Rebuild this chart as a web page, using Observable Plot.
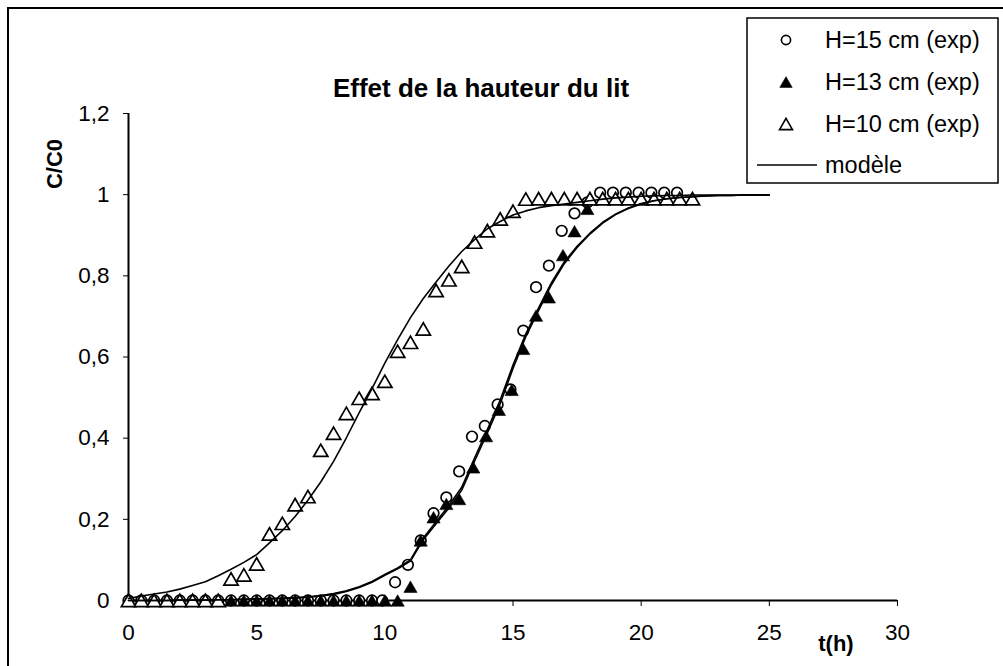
<!DOCTYPE html>
<html>
<head>
<meta charset="utf-8">
<script src="https://cdn.jsdelivr.net/npm/d3@7"></script>
<script src="https://cdn.jsdelivr.net/npm/@observablehq/plot@0.6"></script>
<style>
html,body{margin:0;padding:0;background:#fff;overflow:hidden;}
#wrap{position:relative;width:1003px;height:666px;overflow:hidden;font-family:"Liberation Sans",Arial,sans-serif;}
#frame{position:absolute;left:7px;top:7px;width:1100px;height:800px;border-left:2px solid #000;border-top:2px solid #000;}
#chart{position:absolute;left:0;top:0;}
#over{position:absolute;left:0;top:0;}
</style>
</head>
<body>
<div id="wrap">
  <div id="frame"></div>
  <div id="chart"></div>
  <svg id="over" width="1003" height="666"></svg>
</div>
<script>
// ---------- data ----------
const title = "Effet de la hauteur du lit";
const yLabel = "C/C0";
const xLabel = "t(h)";
const xTicks = [0, 5, 10, 15, 20, 25, 30];
const yTicks = [0, 0.2, 0.4, 0.6, 0.8, 1, 1.2];
const seriesNames = ["H=15 cm (exp)", "H=13 cm (exp)", "H=10 cm (exp)", "modèle"];

// H = 15 cm (open circles)
const t15 = [0,0.5,1,1.5,2,2.5,3,3.5,4,4.5,5,5.5,6,6.5,7,7.5,8,8.5,9,9.5,9.9,
  10.4,10.9,11.4,11.9,12.4,12.9,13.4,13.9,14.4,14.9,15.4,15.9,16.4,16.9,17.4,17.9,
  18.4,18.9,19.4,19.9,20.4,20.9,21.4];
const c15 = [0,0,0,0,0,0,0,0,0,0,0,0,0,0,0,0,0,0,0,0,0,
  0.045,0.088,0.148,0.215,0.254,0.318,0.404,0.430,0.483,0.520,0.665,0.772,0.825,0.911,0.954,0.981,
  1.005,1.005,1.005,1.005,1.005,1.005,1.005];

// H = 13 cm (filled triangles)
const t13 = [0,0.5,1,1.5,2,2.5,3,3.5,4,4.5,5,5.5,6,6.5,7,7.5,8,8.5,9,9.5,10,10.5,
  11.0,11.4,11.9,12.4,12.9,13.45,13.95,14.45,14.95,15.4,15.9,16.4,16.95,17.4,17.9];
const c13 = [0,0,0,0,0,0,0,0,0,0,0,0,0,0,0,0,0,0,0,0,0,0,
  0.034,0.148,0.205,0.238,0.250,0.328,0.405,0.470,0.519,0.620,0.702,0.747,0.851,0.910,0.965];

// H = 10 cm (open triangles)
const t10 = [0,0.5,1,1.5,2,2.5,3,3.5,4,4.5,5,5.5,6,6.5,7,7.5,8,8.5,9,9.5,10,10.5,
  11,11.5,12,12.5,13,13.5,14,14.5,15,15.5,16,16.5,17,17.5,18,18.5,19,19.5,20,20.5,21,21.5,22];
const c10 = [0,0,0,0,0,0,0,0,
  0.053,0.063,0.090,0.164,0.190,0.236,0.256,0.370,0.412,0.461,0.498,0.510,0.540,0.614,
  0.636,0.669,0.764,0.790,0.823,0.883,0.911,0.940,0.959,0.989,
  0.99,0.99,0.99,0.99,0.99,0.99,0.99,0.99,0.99,0.99,0.99,0.99,0.99];

// model curves
const tModel = [0,0.5,1,1.5,2,2.5,3,3.5,4,4.5,5,5.5,6,6.5,7,7.5,8,8.5,9,9.5,10,10.5,11,11.5,
  12,12.5,13,13.5,14,14.5,15,15.5,16,16.5,17,17.5,18,18.5,19,19.5,20,20.5,21,21.5,22,22.5,23,23.5,24,24.5,25];
const model10 = [0.005,0.011,0.016,0.021,0.028,0.037,0.046,0.061,0.077,0.094,0.113,0.142,0.172,0.207,
  0.247,0.292,0.343,0.401,0.463,0.522,0.585,0.643,0.697,0.744,0.785,0.824,0.860,0.889,0.916,0.934,
  0.950,0.960,0.968,0.973,0.977,0.981,0.985,0.989,0.992,0.994,0.996,0.997,0.998,0.998,0.999,0.999,
  0.999,0.999,0.999,0.999,0.999];
const model13 = [0,0,0,0,0.001,0.001,0.001,0.002,0.002,0.003,0.003,0.004,0.005,0.006,0.008,0.011,
  0.015,0.022,0.032,0.045,0.062,0.078,0.097,0.150,0.189,0.228,0.272,0.343,0.413,0.485,0.572,0.650,
  0.715,0.778,0.830,0.870,0.903,0.930,0.951,0.966,0.977,0.985,0.990,0.993,0.995,0.997,0.998,0.998,
  0.999,0.999,0.999];
const model15 = [0,0,0,0,0.001,0.001,0.001,0.002,0.002,0.003,0.004,0.005,0.006,0.007,0.009,0.012,
  0.017,0.024,0.034,0.047,0.064,0.080,0.100,0.154,0.194,0.234,0.279,0.351,0.421,0.494,0.580,0.657,
  0.721,0.783,0.834,0.873,0.905,0.932,0.952,0.967,0.978,0.985,0.990,0.993,0.995,0.997,0.998,0.998,
  0.999,0.999,0.999];

// ---------- build ----------
const pts = (ts, vs) => ts.map((t, i) => ({t, v: vs[i]}));
const d15 = pts(t15, c15), d13 = pts(t13, c13), d10 = pts(t10, c10);
const m10 = pts(tModel, model10), m13 = pts(tModel, model13), m15 = pts(tModel, model15);

const FONT = "'Liberation Sans', Arial, sans-serif";
const chart = Plot.plot({
  width: 1003,
  height: 666,
  marginLeft: 128,
  marginRight: 106,
  marginTop: 113,
  marginBottom: 66,
  style: {fontFamily: FONT, fontSize: "22.5px", background: "transparent", color: "#000", overflow: "visible"},
  x: {domain: [0, 30], ticks: xTicks, tickSize: 6, tickPadding: 18, tickFormat: d => String(d), label: null},
  y: {domain: [0, 1.2], ticks: yTicks, tickSize: 5, tickPadding: 14,
      tickFormat: d => String(d).replace(".", ","), label: null},
  marks: [
    Plot.ruleY([0], {stroke: "#000", strokeWidth: 2}),
    Plot.ruleX([0], {stroke: "#000", strokeWidth: 2}),
    Plot.dot(d15, {x: "t", y: "v", symbol: "circle", r: 5.3, fill: "white", stroke: "#000", strokeWidth: 1.7}),
    Plot.dot(d13, {x: "t", y: "v", symbol: "triangle", r: 4.9, dy: 1.9, fill: "#000", stroke: "#000", strokeWidth: 0.6}),
    Plot.dot(d10, {x: "t", y: "v", symbol: "triangle", r: 5.3, dy: 2.0, fill: "white", stroke: "#000", strokeWidth: 1.7}),
    Plot.line(m10, {x: "t", y: "v", stroke: "#000", strokeWidth: 1.6}),
    Plot.line(m13, {x: "t", y: "v", stroke: "#000", strokeWidth: 1.6}),
    Plot.line(m15, {x: "t", y: "v", stroke: "#000", strokeWidth: 1.6})
  ]
});
document.getElementById("chart").appendChild(chart);

// ---------- overlay texts and legend ----------
const ov = d3.select("#over").style("font-family", FONT);
ov.append("text").attr("x", 481).attr("y", 97).attr("text-anchor", "middle")
  .attr("font-size", 26).attr("font-weight", "bold").text(title);
ov.append("text").attr("transform", "translate(62,164) rotate(-90)").attr("text-anchor", "middle")
  .attr("font-size", 22).attr("font-weight", "bold").text(yLabel);
ov.append("text").attr("x", 836).attr("y", 651).attr("text-anchor", "middle")
  .attr("font-size", 22).attr("font-weight", "bold").text(xLabel);

const lg = ov.append("g");
lg.append("rect").attr("x", 747).attr("y", 18).attr("width", 251).attr("height", 165)
  .attr("fill", "white").attr("stroke", "#000").attr("stroke-width", 1.5);
const rowsY = [40, 82, 124, 165];
const sym = (type, r) => d3.symbol().type(type).size(Math.PI * r * r)();
lg.append("path").attr("transform", `translate(786,${rowsY[0]})`).attr("d", sym(d3.symbolCircle, 4.6))
  .attr("fill", "white").attr("stroke", "#000").attr("stroke-width", 1.6);
lg.append("path").attr("transform", `translate(786,${rowsY[1] + 1.8})`).attr("d", sym(d3.symbolTriangle, 4.6))
  .attr("fill", "#000").attr("stroke", "#000").attr("stroke-width", 0.6);
lg.append("path").attr("transform", `translate(786,${rowsY[2] + 1.9})`).attr("d", sym(d3.symbolTriangle, 4.8))
  .attr("fill", "white").attr("stroke", "#000").attr("stroke-width", 1.6);
lg.append("line").attr("x1", 757).attr("x2", 817).attr("y1", rowsY[3]).attr("y2", rowsY[3])
  .attr("stroke", "#000").attr("stroke-width", 1.5);
seriesNames.forEach((name, i) => {
  lg.append("text").attr("x", 825).attr("y", rowsY[i] + 8).attr("font-size", 23.5).text(name);
});
</script>
</body>
</html>
